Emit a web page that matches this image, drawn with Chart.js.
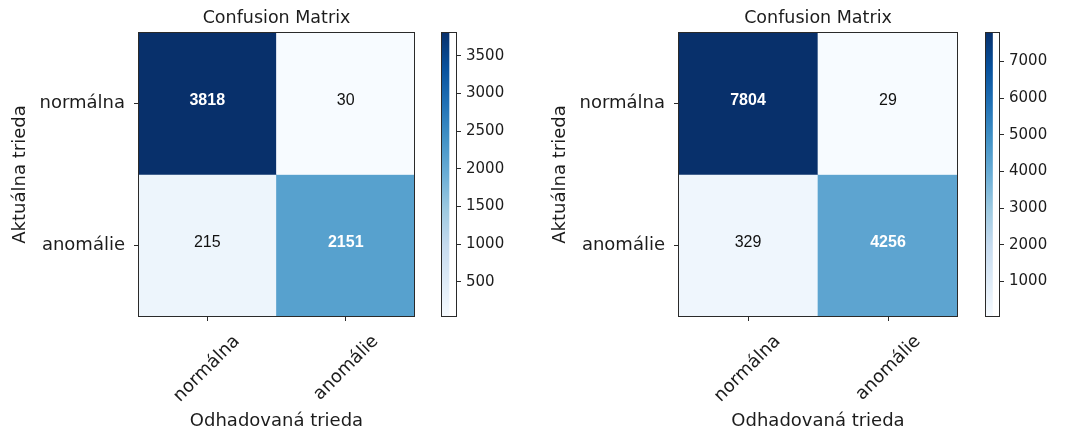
<!DOCTYPE html>
<html>
<head>
<meta charset="utf-8">
<script src="https://cdn.jsdelivr.net/npm/chart.js@4.4.0/dist/chart.umd.min.js"></script>
<style>
  html, body { margin: 0; padding: 0; background: #fff; }
  #page { position: relative; width: 1065px; height: 432px; overflow: hidden; background: #fff; }
  #page canvas { position: absolute; top: 0; }
</style>
</head>
<body>
<div id="page">
  <canvas id="cmLeft" width="420" height="432" style="left:0px"></canvas>
  <canvas id="cbLeft" width="80" height="432" style="left:441px"></canvas>
  <canvas id="cmRight" width="423" height="432" style="left:540px"></canvas>
  <canvas id="cbRight" width="80" height="432" style="left:985px"></canvas>
</div>
<script>
// Class names (rows = actual, columns = predicted)
const classLabels = ['normálna', 'anomálie'];

// Left matrix rows
const leftRowNormal = [3818, 30];
const leftRowAnomaly = [215, 2151];

// Right matrix rows
const rightRowNormal = [7804, 29];
const rightRowAnomaly = [329, 4256];

// Colorbar tick values
const leftColorbarTicks = [500, 1000, 1500, 2000, 2500, 3000, 3500];
const rightColorbarTicks = [1000, 2000, 3000, 4000, 5000, 6000, 7000];

// Texts
const chartTitle = 'Confusion Matrix';
const xAxisTitle = 'Odhadovaná trieda';
const yAxisTitle = 'Aktuálna trieda';

const TEXT = '#1c1c1c';
const LINE = '#2a2a2a';
const FONT = '"DejaVu Sans", Verdana, sans-serif';

// "Blues" sequential colormap
const bluesStops = ['#f7fbff', '#deebf7', '#c6dbef', '#9ecae1', '#6baed6', '#4292c6', '#2171b5', '#08519c', '#08306b'];
function hexToRgb(h) {
  return [parseInt(h.slice(1, 3), 16), parseInt(h.slice(3, 5), 16), parseInt(h.slice(5, 7), 16)];
}
function blues(t) {
  t = Math.max(0, Math.min(1, t));
  const seg = t * (bluesStops.length - 1);
  const i = Math.min(Math.floor(seg), bluesStops.length - 2);
  const f = seg - i;
  const a = hexToRgb(bluesStops[i]), b = hexToRgb(bluesStops[i + 1]);
  const c = a.map((v, k) => Math.round(v + (b[k] - v) * f));
  return `rgb(${c[0]},${c[1]},${c[2]})`;
}

const measureCtx = document.createElement('canvas').getContext('2d');
function textWidth(text, font) {
  measureCtx.font = font;
  return measureCtx.measureText(text).width;
}

// Border drawn around the chart area (axes frame)
const framePlugin = {
  id: 'frame',
  afterDraw(chart) {
    const { ctx, chartArea: a } = chart;
    ctx.save();
    ctx.strokeStyle = LINE;
    ctx.lineWidth = 1;
    ctx.strokeRect(Math.round(a.left) + 0.5, Math.round(a.top) + 0.5,
                   Math.round(a.right - a.left) - 1, Math.round(a.bottom - a.top) - 1);
    ctx.restore();
  }
};

function makeMatrix(canvasId, rows) {
  const values = rows.flat();
  const vmin = Math.min(...values), vmax = Math.max(...values);
  const thresh = vmax / 2;
  const tickFontSize = 18;
  const tickFont = `${tickFontSize}px ${FONT}`;
  // Rotated column labels are centred on their tick: shift by half the label's horizontal run
  const meanLabelWidth = classLabels.reduce((s, l) => s + textWidth(l, tickFont), 0) / classLabels.length;
  const rotatedShift = meanLabelWidth / 2 * Math.SQRT1_2;

  // Values written into the cells, centred on each bar element
  const cellTextPlugin = {
    id: 'cellText',
    afterDatasetsDraw(chart) {
      const { ctx } = chart;
      ctx.save();
      ctx.textAlign = 'center';
      ctx.textBaseline = 'middle';
      rows.forEach((row, r) => {
        const meta = chart.getDatasetMeta(r);
        meta.data.forEach((bar, c) => {
          const v = row[c];
          const light = v > thresh;
          ctx.fillStyle = light ? '#ffffff' : '#111111';
          ctx.font = `${light ? 'bold ' : ''}16px "Liberation Sans", Arial, sans-serif`;
          ctx.fillText(String(v), bar.x, (bar.y + bar.base) / 2 - 3);
        });
      });
      ctx.restore();
    }
  };

  return new Chart(document.getElementById(canvasId), {
    type: 'bar',
    data: {
      labels: classLabels,
      datasets: rows.map((row, r) => ({
        data: row.map(() => [r, r + 1]),
        backgroundColor: row.map(v => blues((v - vmin) / (vmax - vmin))),
        borderWidth: 0,
        grouped: false,
        barPercentage: 1,
        categoryPercentage: 1
      }))
    },
    options: {
      responsive: false,
      animation: false,
      events: [],
      layout: { padding: { left: 0, right: 5, top: 0, bottom: 0 } },
      plugins: {
        legend: { display: false },
        tooltip: { enabled: false },
        title: {
          display: true,
          text: chartTitle,
          fullSize: false,
          color: TEXT,
          font: { family: FONT, size: 17.5, weight: 'normal', lineHeight: 1.2 },
          padding: { top: 8, bottom: 3 }
        }
      },
      scales: {
        x: {
          type: 'category',
          offset: true,
          border: { display: false },
          grid: { offset: false, drawOnChartArea: false, drawTicks: true, tickLength: 4, tickColor: LINE, tickWidth: 1 },
          ticks: {
            autoSkip: false,
            minRotation: 45,
            maxRotation: 45,
            padding: 10,
            color: TEXT,
            font: { family: FONT, size: tickFontSize },
            labelOffset: rotatedShift
          },
          title: {
            display: true,
            text: xAxisTitle,
            color: TEXT,
            font: { family: FONT, size: 18 },
            padding: { top: 0, bottom: 0 }
          },
          afterFit: (scale) => { scale.height = 115; }
        },
        y: {
          type: 'linear',
          min: 0,
          max: classLabels.length,
          reverse: true,
          border: { display: false },
          grid: { drawOnChartArea: false, drawTicks: true, tickLength: 4, tickColor: LINE, tickWidth: 1 },
          afterBuildTicks: (scale) => {
            scale.ticks = classLabels.map((_, i) => ({ value: i + 0.5 }));
          },
          ticks: {
            padding: 9,
            color: TEXT,
            font: { family: FONT, size: tickFontSize },
            callback: (value, index) => classLabels[index]
          },
          title: {
            display: true,
            text: yAxisTitle,
            color: TEXT,
            font: { family: FONT, size: 18 },
            padding: { top: 10, bottom: 0 }
          },
          afterFit: (scale) => { scale.width = 138; }
        }
      }
    },
    plugins: [cellTextPlugin, framePlugin]
  });
}

function makeColorbar(canvasId, rows, tickValues, barWidth) {
  const values = rows.flat();
  const vmin = Math.min(...values), vmax = Math.max(...values);
  const canvas = document.getElementById(canvasId);
  const axisWidth = canvas.width - barWidth;

  return new Chart(canvas, {
    type: 'bar',
    data: {
      labels: [''],
      datasets: [{
        data: [[vmin, vmax]],
        borderWidth: 0,
        barPercentage: 1,
        categoryPercentage: 1,
        backgroundColor: (ctx) => {
          const chart = ctx.chart;
          const y = chart.scales.y;
          if (!chart.chartArea || !y) return bluesStops[4];
          const g = chart.ctx.createLinearGradient(0, y.getPixelForValue(vmin), 0, y.getPixelForValue(vmax));
          bluesStops.forEach((c, i) => g.addColorStop(i / (bluesStops.length - 1), c));
          return g;
        }
      }]
    },
    options: {
      responsive: false,
      animation: false,
      events: [],
      layout: { padding: { left: 0, right: 0, top: 32, bottom: 115 } },
      plugins: { legend: { display: false }, tooltip: { enabled: false }, title: { display: false } },
      scales: {
        x: { display: false, offset: false },
        y: {
          type: 'linear',
          position: 'right',
          min: vmin,
          max: vmax,
          border: { display: false },
          grid: { drawOnChartArea: false, drawTicks: true, tickLength: 4, tickColor: LINE, tickWidth: 1 },
          afterBuildTicks: (scale) => {
            scale.ticks = tickValues.map(v => ({ value: v }));
          },
          ticks: {
            padding: 5,
            color: TEXT,
            font: { family: FONT, size: 15 },
            callback: (value) => String(value)
          },
          afterFit: (scale) => { scale.width = axisWidth; }
        }
      }
    },
    plugins: [framePlugin]
  });
}

makeMatrix('cmLeft', [leftRowNormal, leftRowAnomaly]);
makeColorbar('cbLeft', [leftRowNormal, leftRowAnomaly], leftColorbarTicks, 16);
makeMatrix('cmRight', [rightRowNormal, rightRowAnomaly]);
makeColorbar('cbRight', [rightRowNormal, rightRowAnomaly], rightColorbarTicks, 15);
</script>
</body>
</html>
